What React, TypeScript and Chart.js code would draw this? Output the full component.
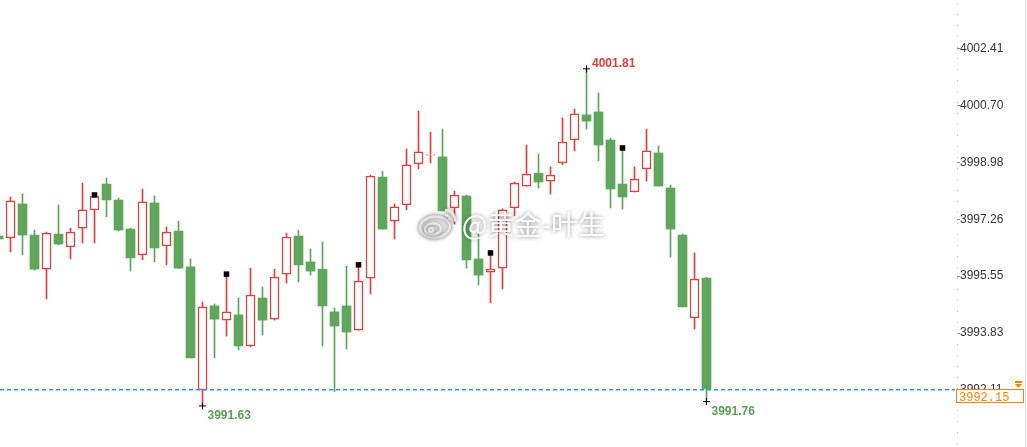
import React, { useEffect, useRef } from 'react';
import { Chart, registerables } from 'chart.js';

Chart.register(...registerables);

// ---- data ----
const OPEN = [
  3996.76, 3996.70, 3997.73, 3996.79, 3995.76, 3996.82, 3996.43, 3997.00, 3997.55, 3998.33,
  3997.85, 3996.97, 3996.19, 3997.76, 3996.46, 3996.91, 3995.83, 3992.11, 3994.65, 3994.22,
  3994.38, 3993.44, 3994.89, 3994.25, 3995.61, 3996.76, 3995.98, 3995.76, 3994.47, 3994.65,
  3993.92, 3995.49, 3998.54, 3997.21, 3997.70, 3998.94, 3999.20, 3999.15, 3997.61, 3997.97,
  3996.07, 3995.67, 3995.79, 3997.61, 3998.27, 3998.66, 3998.42, 3998.97, 3999.66, 4000.42,
  4000.51, 3999.66, 3998.33, 3998.09, 3998.79, 3999.27, 3998.21, 3996.79, 3994.29, 3995.49,
];
const HIGH = [
  3996.82, 3997.94, 3998.03, 3996.94, 3996.88, 3997.70, 3997.00, 3998.36, 3998.00, 3998.51,
  3997.91, 3997.00, 3998.18, 3997.97, 3997.03, 3997.21, 3996.07, 3994.77, 3994.71, 3995.61,
  3994.89, 3995.79, 3995.22, 3995.76, 3996.85, 3996.94, 3996.37, 3996.58, 3994.59, 3995.85,
  3995.89, 3998.60, 3998.72, 3997.73, 3999.39, 4000.54, 3999.90, 3999.99, 3998.12, 3998.00,
  3996.82, 3996.25, 3997.58, 3998.39, 3999.51, 3999.24, 3998.85, 4000.33, 4000.60, 4001.81,
  4001.08, 3999.72, 3999.42, 3998.85, 3999.99, 3999.48, 3998.30, 3996.82, 3996.25, 3995.52,
];
const LOW = [
  3996.61, 3996.28, 3996.19, 3995.73, 3994.86, 3996.49, 3996.07, 3996.55, 3996.55, 3997.34,
  3996.91, 3995.70, 3996.04, 3995.98, 3995.89, 3995.78, 3993.08, 3991.63, 3993.08, 3993.74,
  3993.32, 3993.41, 3993.77, 3994.22, 3995.34, 3995.37, 3995.58, 3993.44, 3992.06, 3993.35,
  3993.92, 3995.01, 3996.97, 3996.67, 3997.55, 3998.79, 3998.97, 3997.52, 3997.12, 3995.79,
  3995.28, 3994.74, 3995.16, 3997.37, 3998.27, 3998.21, 3998.03, 3998.91, 3999.33, 3999.99,
  3999.03, 3997.61, 3997.58, 3998.09, 3998.42, 3998.27, 3996.13, 3994.62, 3993.95, 3991.76,
];
const CLOSE = [
  3996.67, 3997.82, 3996.79, 3995.76, 3996.85, 3996.52, 3996.88, 3997.55, 3997.97, 3997.85,
  3996.94, 3996.10, 3997.79, 3996.40, 3996.88, 3995.79, 3993.08, 3994.62, 3994.25, 3994.47,
  3993.44, 3994.98, 3994.22, 3995.52, 3996.73, 3995.89, 3995.70, 3994.65, 3994.04, 3993.86,
  3995.40, 3998.57, 3996.97, 3997.64, 3998.91, 3999.30, 3999.22, 3997.52, 3998.00, 3996.04,
  3995.58, 3995.76, 3997.55, 3998.36, 3998.63, 3998.39, 3998.60, 3999.60, 4000.45, 4000.23,
  3999.51, 3998.18, 3997.94, 3998.48, 3999.33, 3998.27, 3996.97, 3994.62, 3995.46, 3992.15,
];
const Y_TICKS = [3992.11, 3993.83, 3995.55, 3997.26, 3998.98, 4000.70, 4002.41];
const Y_MIN = 3990.389;
const Y_MAX = 4003.889;
const X_MIN = 0.125;
const X_MAX = 79.875;
const LAST_PRICE = 3992.15;
const FLAG_INDEX = [8, 19, 30, 41, 52];
const HIGH_LABEL_INDEX = [49];
const LOW_LABEL_INDEX = [17, 59];
const WATERMARK = '@黄金-叶生';

const UP = '#e0403a';
const DOWN = '#5fa55c';
const LOW_TEXT = '#5a9e58';
const ORANGE = '#ff8000';
const PRICE_LINE = '#1e90ff';

const idx = OPEN.map((_, i) => i);
const isUp = (i: number) => CLOSE[i] >= OPEN[i];

const overlay = {
  id: 'overlay',
  beforeDatasetsDraw(chart: any) {
    const { ctx, chartArea } = chart;
    ctx.save();
    // dotted axis line
    ctx.fillStyle = '#c4c4c4';
    const ax = Math.round(chartArea.right);
    for (let yy = 3; yy < chart.height; yy += 11) {
      ctx.fillRect(ax, yy, 1, 1);
    }
    ctx.restore();
  },
  afterDatasetsDraw(chart: any) {
    const { ctx, chartArea } = chart;
    const x = chart.scales.x;
    const y = chart.scales.y;
    ctx.save();
    // last price dashed line (drawn as dash segments)
    const py = Math.round(y.getPixelForValue(LAST_PRICE));
    for (let xx = 0; xx < chartArea.right - 2; xx += 7) {
      const w = Math.min(4, chartArea.right - 2 - xx);
      ctx.fillStyle = PRICE_LINE;
      ctx.fillRect(xx, py, w, 1);
      ctx.fillStyle = 'rgba(30,144,255,0.45)';
      ctx.fillRect(xx, py + 1, w, 1);
    }

    // high/low labels
    ctx.font = 'bold 12px Arial, "Liberation Sans", sans-serif';
    ctx.textAlign = 'left';
    ctx.textBaseline = 'alphabetic';
    HIGH_LABEL_INDEX.forEach((i) => {
      const px = x.getPixelForValue(i);
      const hy = y.getPixelForValue(HIGH[i]);
      ctx.fillStyle = UP;
      ctx.fillText(HIGH[i].toFixed(2), px + 5.5, hy - 2);
    });
    LOW_LABEL_INDEX.forEach((i) => {
      const px = x.getPixelForValue(i);
      const ly = y.getPixelForValue(LOW[i]);
      ctx.fillStyle = LOW_TEXT;
      ctx.fillText(LOW[i].toFixed(2), px + 5, ly + 13);
    });

    // watermark logo
    ctx.shadowColor = 'rgba(0,0,0,0.55)';
    ctx.shadowBlur = 4;
    ctx.lineWidth = 2.5;
    ctx.strokeStyle = 'rgba(235,235,235,0.95)';
    ctx.fillStyle = 'rgba(255,255,255,0.85)';
    ctx.beginPath();
    ctx.ellipse(435, 227, 15, 10.5, -0.1, 0, Math.PI * 2);
    ctx.fill();
    ctx.stroke();
    ctx.beginPath();
    ctx.ellipse(433, 229, 8, 5.5, -0.1, 0, Math.PI * 2);
    ctx.stroke();
    ctx.beginPath();
    ctx.arc(431, 230, 2, 0, Math.PI * 2);
    ctx.stroke();
    ctx.beginPath();
    ctx.arc(445, 220, 5, -Math.PI / 2, 0.1);
    ctx.stroke();
    ctx.beginPath();
    ctx.arc(445, 220, 10, -Math.PI / 2, 0.15);
    ctx.stroke();

    // watermark text
    ctx.font = '27px "Noto Sans CJK SC", sans-serif';
    ctx.textBaseline = 'middle';
    ctx.fillStyle = 'rgba(252,252,252,0.9)';
    ctx.fillText(WATERMARK, 462, 225);
    ctx.shadowBlur = 0;
    ctx.shadowColor = 'transparent';
    ctx.fillStyle = 'rgba(255,255,255,0.6)';
    ctx.fillText(WATERMARK, 462, 225);
    ctx.restore();
  },
  afterDraw(chart: any) {
    const { ctx } = chart;
    const y = chart.scales.y;
    const py = Math.round(y.getPixelForValue(LAST_PRICE));
    ctx.save();
    // right border
    ctx.strokeStyle = '#dcdcdc';
    ctx.lineWidth = 1;
    ctx.beginPath();
    ctx.moveTo(1025.5, 0);
    ctx.lineTo(1025.5, chart.height);
    ctx.stroke();
    // last price box
    ctx.fillStyle = '#ffffff';
    ctx.fillRect(956, py, 68, 14);
    ctx.strokeStyle = ORANGE;
    ctx.strokeRect(956.5, py + 0.5, 67, 13);
    ctx.fillStyle = ORANGE;
    ctx.font = '12px "Liberation Mono", "Courier New", monospace';
    ctx.textAlign = 'left';
    ctx.textBaseline = 'alphabetic';
    ctx.fillText(LAST_PRICE.toFixed(2), 959, py + 11.5);
    // little marker icon
    ctx.fillRect(1015, py - 8, 7, 2);
    ctx.beginPath();
    ctx.moveTo(1015, py - 5);
    ctx.lineTo(1022, py - 5);
    ctx.lineTo(1018.5, py - 1);
    ctx.closePath();
    ctx.fill();
    ctx.restore();
  },
};

export default function App() {
  const ref = useRef<HTMLCanvasElement | null>(null);
  useEffect(() => {
    if (!ref.current) return;
    const chart = new Chart(ref.current, {
      type: 'bar',
      data: {
        datasets: [
          {
            type: 'bar',
            label: 'wick',
            data: idx.map((i) => ({ x: i, y: [LOW[i], HIGH[i]] })) as any,
            backgroundColor: idx.map((i) => (isUp(i) ? UP : DOWN)),
            borderWidth: 0,
            barThickness: 1,
            grouped: false,
            order: 3,
          } as any,
          {
            type: 'bar',
            label: 'body',
            data: idx.map((i) => ({ x: i, y: [OPEN[i], CLOSE[i]] })) as any,
            backgroundColor: idx.map((i) => (isUp(i) ? '#ffffff' : DOWN)),
            borderColor: idx.map((i) => (isUp(i) ? UP : DOWN)),
            borderWidth: idx.map((i) => (isUp(i) ? 1.5 : 0)),
            borderSkipped: false,
            barThickness: 9,
            grouped: false,
            order: 2,
          } as any,
          {
            type: 'scatter',
            label: 'flags',
            data: FLAG_INDEX.map((i) => ({ x: i, y: HIGH[i] })),
            pointStyle: 'rect',
            pointRadius: 3.9,
            backgroundColor: '#000000',
            borderWidth: 0,
            order: 1,
          } as any,
          {
            type: 'scatter',
            label: 'extremes',
            data: [
              ...HIGH_LABEL_INDEX.map((i) => ({ x: i, y: HIGH[i] })),
              ...LOW_LABEL_INDEX.map((i) => ({ x: i, y: LOW[i] })),
            ],
            pointStyle: 'cross',
            pointRadius: 3.5,
            borderColor: '#000000',
            borderWidth: 1,
            order: 0,
          } as any,
        ],
      },
      options: {
        responsive: false,
        animation: false,
        devicePixelRatio: 1,
        layout: { padding: 0, autoPadding: false },
        plugins: { legend: { display: false }, tooltip: { enabled: false } },
        scales: {
          x: {
            type: 'linear',
            min: X_MIN,
            max: X_MAX,
            offset: false,
            display: false,
          },
          y: {
            type: 'linear',
            position: 'right',
            min: Y_MIN,
            max: Y_MAX,
            afterFit: (s: any) => {
              s.width = 70;
              s.paddingTop = 0;
              s.paddingBottom = 0;
            },
            afterBuildTicks: (s: any) => {
              s.ticks = Y_TICKS.map((v) => ({ value: v }));
            },
            border: { display: false },
            grid: {
              display: true,
              drawOnChartArea: false,
              drawTicks: true,
              tickLength: 3,
              tickColor: '#8a8a8a',
            },
            ticks: {
              padding: 0,
              color: '#333333',
              font: { family: 'Arial, "Liberation Sans", sans-serif', size: 12 },
              callback: (v: any) => Number(v).toFixed(2),
            },
          },
        },
      } as any,
      plugins: [overlay],
    });
    return () => chart.destroy();
  }, []);
  return (
    <div style={{ position: 'fixed', left: 0, top: 0, width: 1027, height: 447, background: '#fff' }}>
      <canvas ref={ref} width={1027} height={447} style={{ display: 'block' }} />
    </div>
  );
}
